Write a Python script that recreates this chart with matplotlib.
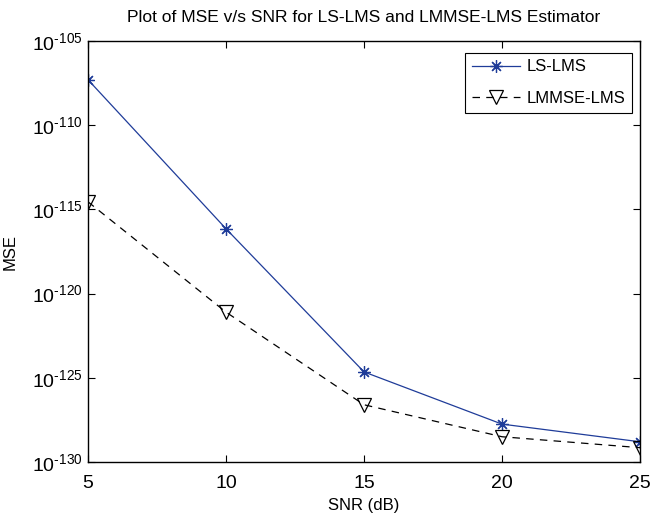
import matplotlib
matplotlib.use('Agg')
import matplotlib.pyplot as plt
import numpy as np

# SNR sweep and MSE exponents (MSE = 10**exp)
snr_db = [5, 10, 15, 20, 25]
ls_lms_exp = [-107.3, -116.15, -124.65, -127.75, -128.8]
lmmse_lms_exp = [-114.55, -121.1, -126.6, -128.5, -129.15]

y_tick_exp = [-130, -125, -120, -115, -110, -105]
x_ticks = [5, 10, 15, 20, 25]

plt.rcParams['font.family'] = ['Liberation Sans', 'DejaVu Sans']
plt.rcParams['mathtext.fontset'] = 'custom'
plt.rcParams['mathtext.rm'] = 'Liberation Sans'
plt.rcParams['mathtext.it'] = 'Liberation Sans'

fig = plt.figure(figsize=(6.64, 5.16), dpi=100)
ax = fig.add_axes([88 / 664, 1 - 462 / 516, 552 / 664, 421 / 516])

ls_vals = np.power(10.0, ls_lms_exp)
lmmse_vals = np.power(10.0, lmmse_lms_exp)

ax.semilogy(snr_db, ls_vals, color='#1f3c99', lw=0.9, marker=(8, 2, 0),
            markersize=9, markeredgewidth=0.9, label='LS-LMS')
ax.semilogy(snr_db, lmmse_vals, color='black', lw=0.9, ls=(0, (6, 5)),
            marker='v', markersize=10, markerfacecolor='none',
            markeredgewidth=0.9, label='LMMSE-LMS')

ax.set_xlim(5, 25)
ax.set_ylim(10.0 ** -130, 10.0 ** -105)
ax.set_xticks(x_ticks)
ax.set_xticklabels([str(v) for v in x_ticks])
ax.set_yticks([10.0 ** e for e in y_tick_exp])
# keep the plain hyphen in the exponent
ax.set_yticklabels(['$10^{\\text{%d}}$' % e for e in y_tick_exp])
ax.yaxis.set_minor_locator(matplotlib.ticker.NullLocator())

ax.tick_params(direction='in', top=True, right=True, length=5, width=0.8,
               labelsize=14)
ax.tick_params(axis='x', pad=9)
ax.tick_params(axis='y', pad=4)
for sp in ax.spines.values():
    sp.set_linewidth(1.0)

ax.set_title('Plot of MSE v/s SNR for LS-LMS and LMMSE-LMS Estimator',
             fontsize=12.5, pad=14)
ax.set_xlabel('SNR (dB)', fontsize=12, labelpad=5)
ax.set_ylabel('MSE', fontsize=12, labelpad=10)

leg = ax.legend(loc='upper right', fontsize=12, fancybox=False, framealpha=1,
                edgecolor='black', borderpad=0.4, labelspacing=1.0,
                handlelength=2.9, handletextpad=0.4,
                bbox_to_anchor=(0.986, 0.972), borderaxespad=0)
leg.get_frame().set_linewidth(0.8)

fig.savefig('out.png', dpi=100)
